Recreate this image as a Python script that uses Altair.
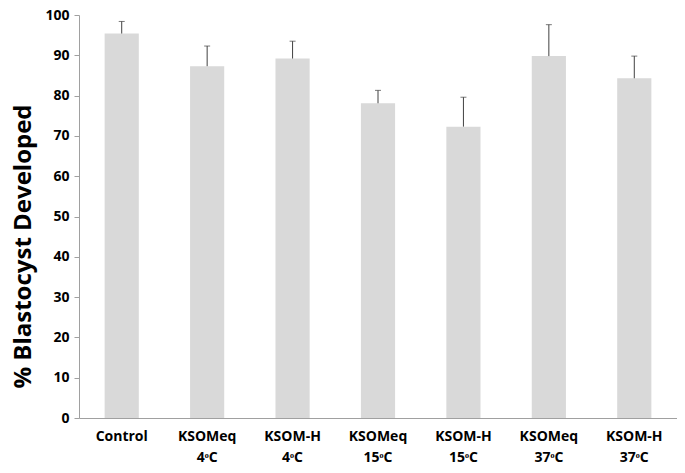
import altair as alt
import pandas as pd

categories = ["Control", "KSOMeq|4ᵒC", "KSOM-H|4ᵒC", "KSOMeq|15ᵒC", "KSOM-H|15ᵒC", "KSOMeq|37ᵒC", "KSOM-H|37ᵒC"]
values = [95.4, 87.3, 89.2, 78.1, 72.3, 89.8, 84.3]
errors = [3.0, 5.0, 4.3, 3.2, 7.3, 7.8, 5.5]

df = pd.DataFrame({"cat": categories, "val": values, "err": errors})
df["top"] = df["val"] + df["err"]

FONT = "Open Sans"

x = alt.X("cat:N", sort=categories, title=None,
          scale=alt.Scale(paddingInner=0.6, paddingOuter=0.3),
          axis=alt.Axis(labelExpr="split(datum.label, '|')", labelAngle=0,
                        labelFont=FONT, labelFontSize=14, labelFontWeight="bold",
                        labelColor="#000000", labelPadding=11, ticks=False,
                        domainColor="#a0a0a0", domainWidth=1, labelLineHeight=21))
y = alt.Y("val:Q", title="% Blastocyst Developed",
          scale=alt.Scale(domain=[0, 100], nice=False),
          axis=alt.Axis(values=list(range(0, 101, 10)), grid=False,
                        labelFont=FONT, labelFontSize=14, labelFontWeight="bold",
                        labelColor="#000000", tickColor="#a0a0a0", tickSize=5,
                        domainColor="#a0a0a0", labelPadding=5,
                        titleFont=FONT, titleFontSize=24, titleFontWeight="bold",
                        titleColor="#000000", titleX=-56, titleY=231,
                        titleAlign="center", titleBaseline="middle", titleAngle=270))

base = alt.Chart(df)
bars = base.mark_bar(color="#d9d9d9").encode(x=x, y=y)
rules = base.mark_rule(color="#404040", strokeWidth=1).encode(x=x, y="val:Q", y2="top:Q")
caps = base.mark_tick(color="#404040", thickness=1, size=6, orient="horizontal").encode(x=x, y="top:Q")

chart = (bars + rules + caps).properties(
    width=598, height=403,
    background="white",
    padding={"left": 2, "top": 0, "right": 0, "bottom": 0},
).configure_view(stroke=None)

chart.save("out.html", embed_options={"renderer": "svg", "actions": False})
